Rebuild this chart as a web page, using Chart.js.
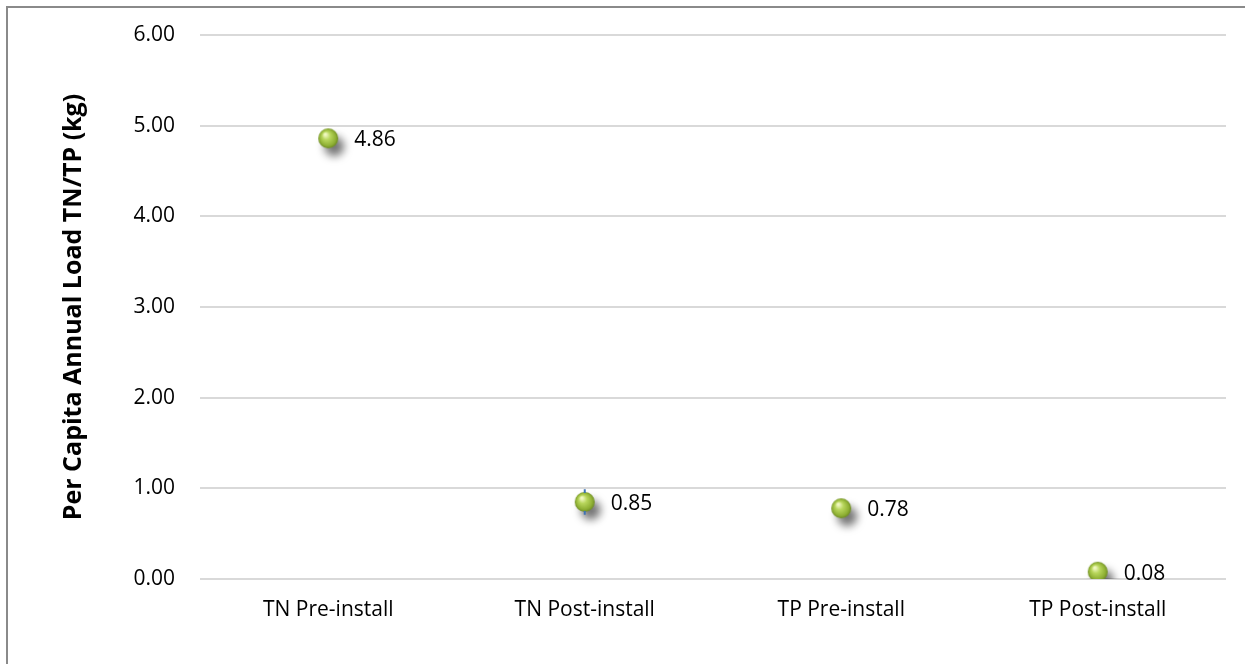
<!DOCTYPE html>
<html>
<head>
<meta charset="utf-8">
<script src="https://cdn.jsdelivr.net/npm/chart.js@4"></script>
<style>
    html, body { margin: 0; padding: 0; background: #fff; overflow: hidden; }
    #wrap { position: relative; width: 1245px; height: 664px; }
    #frame {
        position: absolute; left: 6px; top: 6px; width: 1400px; height: 800px;
        border-left: 2px solid #8a8a8a; border-top: 2px solid #8a8a8a;
        pointer-events: none;
    }
</style>
</head>
<body>
<div id="wrap">
    <canvas id="loadChart" width="1245" height="664"></canvas>
    <div id="frame"></div>
</div>
<script>
const categories = ["TN Pre-install", "TN Post-install", "TP Pre-install", "TP Post-install"];
const loads = [4.86, 0.85, 0.78, 0.08];
// error bar ends (only the TN post-install value has one)
const errLow = [null, 0.71, null, null];
const errHigh = [null, 0.99, null, null];
const yTicks = [0, 1, 2, 3, 4, 5, 6];

const FONT = "'Open Sans', sans-serif";
const BALL_R = 10;

//Green shaded ball with a soft drop shadow, used as the marker image
function makeBall() {
    const c = document.createElement("canvas");
    c.width = 60;
    c.height = 60;
    const g = c.getContext("2d");
    const grad = g.createRadialGradient(27, 26, 1, 30, 30, BALL_R);
    grad.addColorStop(0, "#f0f8c0");
    grad.addColorStop(0.35, "#b8d65c");
    grad.addColorStop(0.8, "#8fb034");
    grad.addColorStop(1, "#6c8a22");
    g.shadowColor = "rgba(0,0,0,0.55)";
    g.shadowBlur = 8;
    g.shadowOffsetX = 6;
    g.shadowOffsetY = 8;
    g.beginPath();
    g.arc(30, 30, BALL_R, 0, Math.PI * 2);
    g.fillStyle = grad;
    g.fill();
    return c;
}

// whiskers drawn above and below the ball, over its shadow
const errorBars = {
    id: "errorBars",
    afterDatasetsDraw(chart) {
        const ctx = chart.ctx;
        const meta = chart.getDatasetMeta(0);
        const y = chart.scales.y;
        ctx.save();
        ctx.strokeStyle = "#3f73b5";
        ctx.lineWidth = 2;
        meta.data.forEach((pt, i) => {
            if (errLow[i] === null) return;
            ctx.beginPath();
            ctx.moveTo(pt.x, y.getPixelForValue(errHigh[i]));
            ctx.lineTo(pt.x, pt.y - BALL_R + 1);
            ctx.moveTo(pt.x, pt.y + BALL_R - 1);
            ctx.lineTo(pt.x, y.getPixelForValue(errLow[i]));
            ctx.stroke();
        });
        ctx.restore();
    },
};

const valueLabels = {
    id: "valueLabels",
    afterDatasetsDraw(chart) {
        const ctx = chart.ctx;
        const meta = chart.getDatasetMeta(0);
        ctx.save();
        ctx.font = "21px " + FONT;
        ctx.fillStyle = "#000";
        ctx.textAlign = "left";
        ctx.textBaseline = "middle";
        meta.data.forEach((pt, i) => {
            ctx.fillText(loads[i].toFixed(2), pt.x + 26, pt.y + 2);
        });
        ctx.restore();
    },
};

const data = {
    labels: categories,
    datasets: [
        {
            data: loads,
            showLine: false,
            pointStyle: makeBall(),
            pointRadius: 10,
            pointHoverRadius: 10,
        },
    ],
};

const config = {
    type: "line",
    data: data,
    plugins: [errorBars, valueLabels],
    options: {
        responsive: false,
        animation: false,
        layout: { padding: { left: 53, top: 35, right: 19, bottom: 0 } },
        plugins: {
            legend: { display: false },
            tooltip: { enabled: false },
        },
        scales: {
            x: {
                offset: true,
                grid: { display: false, drawTicks: false },
                border: { display: false },
                ticks: { color: "#000", padding: 18, font: { family: FONT, size: 21 } },
                afterFit(scale) { scale.height = 85; },
            },
            y: {
                min: 0,
                max: 6,
                afterBuildTicks(scale) { scale.ticks = yTicks.map((v) => ({ value: v })); },
                grid: { color: "#d9d9d9", lineWidth: 2, drawTicks: false },
                border: { display: false },
                ticks: {
                    color: "#000",
                    padding: 25,
                    font: { family: FONT, size: 21 },
                    callback: (v) => Number(v).toFixed(2),
                },
                title: {
                    display: true,
                    text: "Per Capita Annual Load TN/TP (kg)",
                    color: "#000",
                    padding: { top: 6, bottom: 0 },
                    font: { family: FONT, size: 25, weight: "bold" },
                },
                afterFit(scale) {
                    scale.width = 147;
                    scale.paddingTop = 0;
                    scale.paddingBottom = 0;
                },
            },
        },
    },
};

const loadChart = new Chart(document.querySelector("#loadChart"), config);
</script>
</body>
</html>
